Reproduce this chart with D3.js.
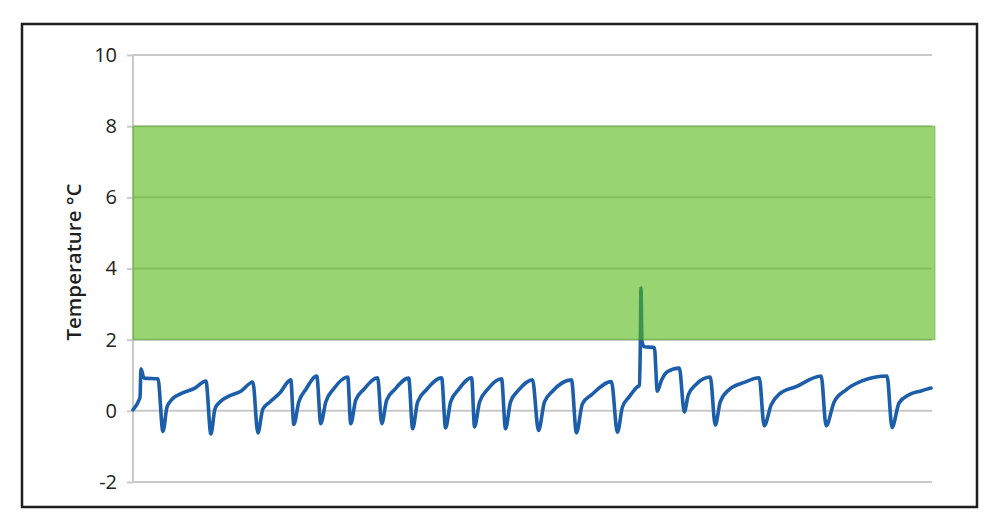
<!DOCTYPE html>
<html>
<head>
<meta charset="utf-8">
<script src="https://cdn.jsdelivr.net/npm/d3@7"></script>
<style>
  html, body { margin: 0; padding: 0; background: #fff; }
  svg { display: block; }
</style>
</head>
<body>
<svg id="chart" width="995" height="528"></svg>
<script>
// ---- data (time in hours, temperature in °C) ----
const times = [
  0, 1.5, 1.75, 2.0, 2.75, 6.25,
  7.5, 8.5, 9.75, 11.75, 15.5, 18.25,
  19.5, 20.5, 21.75, 23.75, 27, 30,
  31.25, 32.5, 34.25, 36.75, 39.5,
  40.25, 41.5, 43.25, 46,
  47, 48.25, 50.25, 53.75,
  54.5, 55.75, 57.75, 61.25,
  62.25, 63.5, 65.5, 69,
  70, 71.25, 73.5, 77.25,
  78.25, 79.5, 81.5, 84.75,
  85.5, 86.75, 88.75, 92.25,
  93.25, 94.5, 96.5, 100,
  101.5, 103, 105, 109.75,
  111, 112.5, 114.75, 119.75,
  121.25, 122.5, 124.25, 126, 126.75, 127, 127.15, 127.4, 128, 130.5,
  131.25, 132.25, 133.75, 136.75,
  138, 139, 141, 144.5,
  145.75, 147, 149.25, 153, 156.75,
  158, 159.75, 161.75, 166, 172.25,
  173.5, 175.5, 178.5, 182.5, 188.75,
  190, 191.75, 194.25, 197.25, 199.75
];
const temps = [
  0.03, 0.3, 0.38, 1.18, 0.92, 0.9,
  -0.58, 0.1, 0.32, 0.47, 0.64, 0.84,
  -0.65, 0.05, 0.25, 0.4, 0.55, 0.81,
  -0.62, 0.05, 0.25, 0.5, 0.87,
  -0.38, 0.25, 0.6, 0.98,
  -0.36, 0.25, 0.62, 0.95,
  -0.36, 0.3, 0.6, 0.93,
  -0.36, 0.3, 0.6, 0.92,
  -0.5, 0.25, 0.6, 0.93,
  -0.48, 0.25, 0.6, 0.93,
  -0.45, 0.25, 0.6, 0.9,
  -0.5, 0.25, 0.58, 0.87,
  -0.55, 0.25, 0.55, 0.87,
  -0.62, 0.2, 0.45, 0.82,
  -0.6, 0.1, 0.4, 0.65, 0.72, 1.95, 3.45, 1.95, 1.8, 1.78,
  0.55, 0.85, 1.1, 1.2,
  -0.03, 0.45, 0.75, 0.95,
  -0.4, 0.25, 0.6, 0.8, 0.93,
  -0.42, 0.17, 0.47, 0.68, 0.98,
  -0.42, 0.25, 0.59, 0.84, 0.98,
  -0.47, 0.22, 0.45, 0.56, 0.64
];
const yTicks = [-2, 0, 2, 4, 6, 8, 10];
const safeRange = [2, 8];
const timeDomain = [0, 200];
const yLabel = "Temperature °C";

// ---- drawing ----
const svg = d3.select("#chart");
const W = 995, H = 528;
const plot = { left: 133, right: 932, top: 55, bottom: 482 };

svg.append("rect").attr("x", 0).attr("y", 0).attr("width", W).attr("height", H).attr("fill", "#fff");
svg.append("rect")
  .attr("x", 22).attr("y", 24).attr("width", 955).attr("height", 483)
  .attr("fill", "none").attr("stroke", "#1e1e1e").attr("stroke-width", 2.5);

const x = d3.scaleLinear().domain(timeDomain).range([plot.left, plot.right]);
const y = d3.scaleLinear().domain([-2, 10]).range([plot.bottom, plot.top]);

// gridlines
svg.append("g").selectAll("line").data(yTicks).join("line")
  .attr("x1", plot.left).attr("x2", plot.right)
  .attr("y1", d => y(d)).attr("y2", d => y(d))
  .attr("stroke", "#c9c9c9").attr("stroke-width", 2);

// y axis
const yAxis = d3.axisLeft(y).tickValues(yTicks).tickSize(6).tickPadding(10).tickFormat(d => String(d));
const ga = svg.append("g").attr("transform", `translate(${plot.left},0)`).call(yAxis);
ga.select(".domain").attr("stroke", "#c9c9c9").attr("stroke-width", 2).attr("d", `M0,${plot.top}V${plot.bottom}`);
ga.selectAll(".tick line").attr("stroke", "#c9c9c9").attr("stroke-width", 2);
ga.selectAll(".tick text")
  .attr("font-family", "'Open Sans', sans-serif").attr("font-size", 20)
  .attr("fill", "#222").attr("x", -16);

// y label
svg.append("text")
  .attr("transform", `translate(81,262) rotate(-90)`)
  .attr("text-anchor", "middle")
  .attr("font-family", "'Open Sans', sans-serif").attr("font-weight", 600)
  .attr("font-size", 20.5).attr("fill", "#1e1e1e")
  .text(yLabel);

// line
const pts = times.map((t, i) => [t, temps[i]]);
const line = d3.line().x(d => x(d[0])).y(d => y(d[1])).curve(d3.curveMonotoneX);
svg.append("path").datum(pts)
  .attr("d", line)
  .attr("fill", "none").attr("stroke", "#1d5eaa").attr("stroke-width", 3.6)
  .attr("stroke-linejoin", "round").attr("stroke-linecap", "round");

// safe range band (semi-transparent overlay)
svg.append("rect")
  .attr("x", x(timeDomain[0])).attr("width", x(timeDomain[1]) - x(timeDomain[0]) + 3)
  .attr("y", y(safeRange[1])).attr("height", y(safeRange[0]) - y(safeRange[1]))
  .attr("fill", "rgb(83,184,20)").attr("fill-opacity", 0.6)
  .attr("stroke", "rgb(70,160,20)").attr("stroke-opacity", 0.35).attr("stroke-width", 1.5);
</script>
</body>
</html>
